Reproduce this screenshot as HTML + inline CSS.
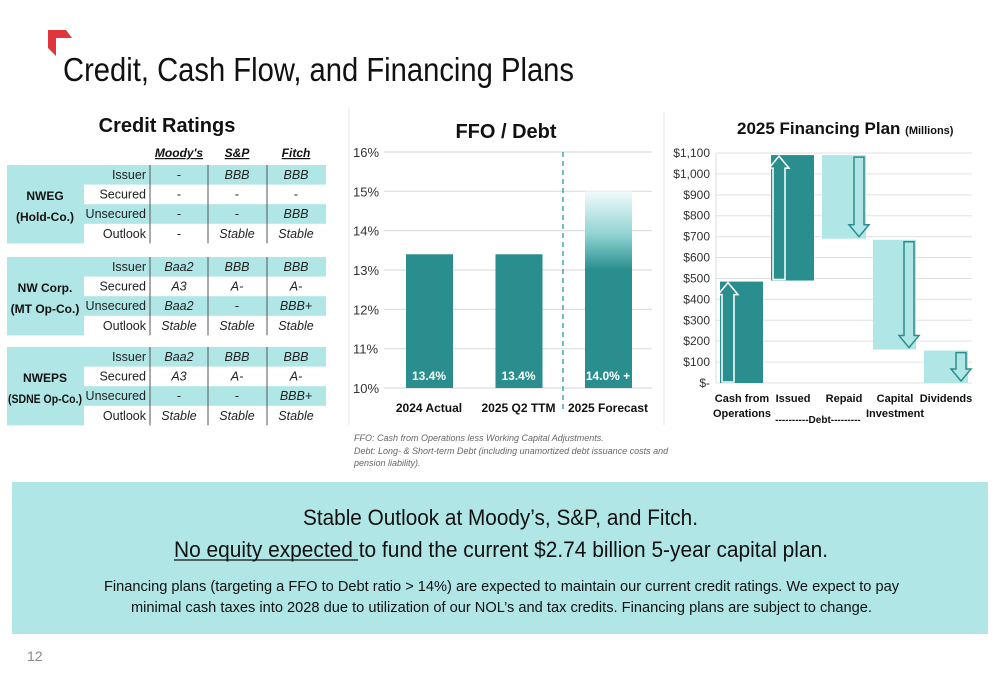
<!DOCTYPE html>
<html><head><meta charset="utf-8"><style>
html,body{margin:0;padding:0;background:#fff;}
svg{display:block;font-family:"Liberation Sans",sans-serif;}
</style></head><body>
<svg id="s" width="1000" height="685" viewBox="0 0 1000 685" xmlns="http://www.w3.org/2000/svg">
<defs>
<linearGradient id="fg" x1="0" y1="1" x2="0" y2="0">
<stop offset="0" stop-color="#2a8e8e"/><stop offset="0.6" stop-color="#2a8e8e"/><stop offset="0.78" stop-color="#8fd3d3"/><stop offset="1" stop-color="#f2fbfb"/>
</linearGradient>
</defs>
<path d="M48,30 L66,30 L72,38 L56,38 L56,56 L48,48 Z" fill="#e0353b"/>
<text x="63" y="81" font-size="33" textLength="511" lengthAdjust="spacingAndGlyphs" fill="#111">Credit, Cash Flow, and Financing Plans</text>

<g id="table">
<text x="167" y="132" font-size="20" font-weight="bold" text-anchor="middle" fill="#111">Credit Ratings</text>
</g>

<line x1="349" y1="108" x2="349" y2="425" stroke="#e4e4e4"/>
<line x1="664" y1="112" x2="664" y2="425" stroke="#e4e4e4"/>
<g id="ffo">
<text x="506" y="138" font-size="20" font-weight="bold" text-anchor="middle" fill="#111">FFO / Debt</text>
</g>
<g font-size="9" font-style="italic" fill="#666">
<text x="354" y="441">FFO: Cash from Operations less Working Capital Adjustments.</text>
<text x="354" y="454">Debt: Long- &amp; Short-term Debt (including unamortized debt issuance costs and</text>
<text x="354" y="466">pension liability).</text>
</g>

<g id="fin">
<text x="737" y="134" font-size="17" font-weight="bold" fill="#111">2025 Financing Plan <tspan font-size="11">(Millions)</tspan></text>
</g>

<rect x="12" y="482" width="976" height="152" fill="#b0e6e6"/>
<text x="303" y="525" font-size="22" textLength="395" lengthAdjust="spacingAndGlyphs" fill="#111">Stable Outlook at Moody’s, S&amp;P, and Fitch.</text>
<text x="174" y="557" font-size="22" textLength="654" lengthAdjust="spacingAndGlyphs" fill="#111">No equity expected to fund the current $2.74 billion 5-year capital plan.</text>
<line x1="174" y1="560" x2="358" y2="560" stroke="#111" stroke-width="1.3"/>
<text x="104" y="591" font-size="15" textLength="795" lengthAdjust="spacingAndGlyphs" fill="#111">Financing plans (targeting a FFO to Debt ratio &gt; 14%) are expected to maintain our current credit ratings. We expect to pay</text>
<text x="131" y="612" font-size="15" textLength="741" lengthAdjust="spacingAndGlyphs" fill="#111">minimal cash taxes into 2028 due to utilization of our NOL’s and tax credits. Financing plans are subject to change.</text>
<text x="27" y="661" font-size="14" fill="#888">12</text>
</svg>
<script>
const NS="http://www.w3.org/2000/svg";
function mk(p,tag,a,txt){const e=document.createElementNS(NS,tag);for(const k in a)e.setAttribute(k,a[k]);if(txt!==undefined)e.textContent=txt;p.appendChild(e);return e;}

// ---- Credit ratings table ----
const groups=["NWEG|(Hold-Co.)","NW Corp.|(MT Op-Co.)","NWEPS|(SDNE Op-Co.)"];
const rowLabels=["Issuer","Secured","Unsecured","Outlook"];
const agencies=["Moody's","S&P","Fitch"];
const ratings=[
 [["-","BBB","BBB"],["-","-","-"],["-","-","BBB"],["-","Stable","Stable"]],
 [["Baa2","BBB","BBB"],["A3","A-","A-"],["Baa2","-","BBB+"],["Stable","Stable","Stable"]],
 [["Baa2","BBB","BBB"],["A3","A-","A-"],["-","-","BBB+"],["Stable","Stable","Stable"]]
];
const T=document.getElementById('table');
const colC=[179,237,296];
agencies.forEach((a,i)=>{const t=mk(T,'text',{x:colC[i],y:157,'font-size':12,'font-weight':'bold','font-style':'italic','text-anchor':'middle','text-decoration':'underline',fill:'#111'},a);

});
const blockY=[165,257,347], rh=19.6;
groups.forEach((g,b)=>{
 const y0=blockY[b];
 const gr=mk(T,'rect',{x:7,y:y0,width:77,height:rh*4,fill:'#b0e6e6'});
 
 
 const [l1,l2]=g.split('|');
 mk(T,'text',{x:45,y:y0+rh*2-4,'font-size':12,'font-weight':'bold','text-anchor':'middle',fill:'#111'},l1);
 mk(T,'text',{x:45,y:y0+rh*3-3,'font-size':12,'font-weight':'bold','text-anchor':'middle',fill:'#111',textLength:b===2?74:null,lengthAdjust:'spacingAndGlyphs'},l2).removeAttribute(b===2?'x-none':'textLength');
 rowLabels.forEach((r,i)=>{
  const y=y0+i*rh;
  if(i%2===0){const rr=mk(T,'rect',{x:84,y:y,width:242,height:rh,fill:'#b0e6e6'});
   
   }
  mk(T,'text',{x:146,y:y+14,'font-size':12.5,'text-anchor':'end',fill:'#222'},r);
  ratings[b][i].forEach((v,c)=>{
   const t=mk(T,'text',{x:colC[c],y:y+14,'font-size':12.5,'font-style':v==='-'?'normal':'italic','text-anchor':'middle',fill:'#222'},v);
   
   
  });
 });
 [150,208,267].forEach(x=>mk(T,'line',{x1:x,y1:y0,x2:x,y2:y0+rh*4,stroke:'#555','stroke-width':1}));
});

// ---- FFO / Debt chart ----
const ffoCats=["2024 Actual","2025 Q2 TTM","2025 Forecast"];
const ffoVals=[13.4,13.4,15.0];
const ffoLabels=["13.4%","13.4%","14.0% +"];
const ffoTicks=[10,11,12,13,14,15,16];
const F=document.getElementById('ffo');
const fy=v=>388-(v-10)*(388-152)/6;
const fx=i=>429+i*89.5;
ffoTicks.forEach(t=>{
 const l=mk(F,'line',{x1:384,y1:fy(t),x2:652,y2:fy(t),stroke:'#ddd','stroke-width':1.2});
 
 
 const tx=mk(F,'text',{x:353,y:fy(t)+5,'font-size':13,fill:'#333'},t+'%');
 
 
});
mk(F,'line',{x1:563,y1:152,x2:563,y2:410,stroke:'#2a9a9a','stroke-width':1.3,'stroke-dasharray':'5,4'});
ffoCats.forEach((c,i)=>{
 const r=mk(F,'rect',{x:fx(i)-23,y:fy(ffoVals[i]),width:47,height:fy(10)-fy(ffoVals[i]),fill:i===2?'url(#fg)':'#2a8e8e'});
 
 
 mk(F,'text',{x:fx(i),y:380,'font-size':12,'font-weight':'bold','text-anchor':'middle',fill:'#fff'},ffoLabels[i]);
 const cl=mk(F,'text',{x:fx(i),y:412,'font-size':12,'font-weight':'bold','text-anchor':'middle',fill:'#111'},c);
 
 
});

// ---- Financing plan waterfall ----
const finCats=["Cash from|Operations","Issued","Repaid","Capital|Investment","Dividends"];
const finDeltas=[485,600,-400,-525,-155];
const finStart=[0,490,1090,685,155];
const finTicks=[0,100,200,300,400,500,600,700,800,900,1000,1100];
const G=document.getElementById('fin');
const gy=v=>383-v*(383-153)/1100;
const gx=i=>720+i*51;
finTicks.forEach(t=>{
 const l=mk(G,'line',{x1:716,y1:gy(t),x2:972,y2:gy(t),stroke:'#e2e2e2','stroke-width':1});
 
 
 const lab=t===0?'$-':'$'+t.toLocaleString('en-US');
 const tx=mk(G,'text',{x:710,y:gy(t)+4,'font-size':12,'text-anchor':'end',fill:'#333'},lab);
 
 
});
mk(G,'line',{x1:716,y1:153,x2:716,y2:383,stroke:'#ddd'});
finDeltas.forEach((d,i)=>{
 const s=finStart[i];
 const lo=Math.min(s,s+d), hi=Math.max(s,s+d);
 const x=gx(i), w=i===2||i===4?44:43;
 const r=mk(G,'rect',{x:x,y:gy(hi),width:w,height:gy(lo)-gy(hi),fill:d>=0?'#2a8e8e':'#b0e6e6'});
 
 
 let p;
 if(d>=0){
  const ax=x+2,top=gy(hi)+1,bot=gy(lo)-1;
  p=`M${ax},${bot} L${ax},${top+12} L${ax-4},${top+12} L${ax+6},${top} L${ax+16},${top+12} L${ax+12},${top+12} L${ax+12},${bot} Z`;
  mk(G,'path',{d:p,fill:'#2a8e8e',stroke:'#fff','stroke-width':1.5});
 }else{
  const ax=x+w-12,top=gy(hi)+2,bot=gy(lo)-2;
  p=`M${ax},${top} L${ax},${bot-12} L${ax-5},${bot-12} L${ax+5},${bot} L${ax+15},${bot-12} L${ax+10},${bot-12} L${ax+10},${top} Z`;
  mk(G,'path',{d:p,fill:'#b0e6e6',stroke:'#2a8e8e','stroke-width':1.5});
 }
 const parts=finCats[i].split('|');
 parts.forEach((s2,k)=>{
  const t=mk(G,'text',{x:x+22,y:402+k*15,'font-size':11,'font-weight':'bold','text-anchor':'middle',fill:'#111'},s2);
  
  
 });
});
mk(G,'text',{x:818,y:423,'font-size':10,'font-weight':'bold','text-anchor':'middle',fill:'#111'},'----------Debt---------');
</script>
</body></html>
